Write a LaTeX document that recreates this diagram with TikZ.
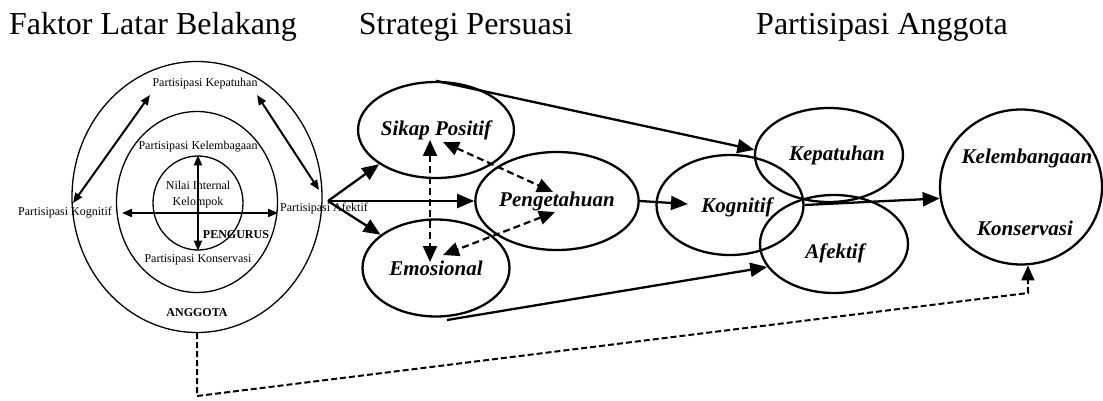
\documentclass[tikz,border=0pt]{standalone}
\usepackage{fontspec}
\setmainfont{Liberation Serif}
\usetikzlibrary{arrows.meta,shapes.geometric,calc}
\begin{document}
\begin{tikzpicture}[x=1pt,y=-1pt,
  title/.style={font=\fontsize{32}{38}\selectfont,anchor=base,inner sep=0},
  small/.style={font=\fontsize{12}{16}\selectfont,inner sep=0},
  thin ring/.style={draw,ellipse,line width=1.3pt,inner sep=0},
  bubble/.style={draw,ellipse,line width=2.3pt,inner sep=0,font=\fontsize{21}{25}\selectfont\bfseries\itshape},
  btext/.style={inner sep=0,font=\fontsize{21}{25}\selectfont\bfseries\itshape},
  bigarr/.style={line width=2.3pt,-{Triangle[length=17pt,width=14pt]}},
  dblarr/.style={line width=2pt,{Triangle[length=10pt,width=8pt]}-{Triangle[length=10pt,width=8pt]}},
  dasharr/.style={line width=2.2pt,dash pattern=on 7pt off 4pt,{Triangle[length=16pt,width=14pt]}-{Triangle[length=16pt,width=14pt]}},
  bottomdash/.style={line width=2pt,dash pattern=on 6pt off 3pt,-{Triangle[length=15pt,width=13pt]}}
]
\useasboundingbox (0,0) rectangle (1103,401);

% titles
\node[title] (t1) at (153,35) {Faktor Latar Belakang};
\node[title] (t2) at (466,35) {Strategi Persuasi};
\node[title] (t3) at (882,35) {Partisipasi Anggota};

% left concentric diagram
\node[thin ring,minimum width=250pt,minimum height=271pt] (anggota) at (197,197) {};
\node[thin ring,minimum width=161pt,minimum height=181pt] (pengurus) at (197,202) {};
\node[thin ring,minimum width=90pt,minimum height=94pt] (nilai) at (198,203) {};

\node[small] (lkep) at (205,84) {Partisipasi Kepatuhan};
\node[small] (lkel) at (198,147) {Partisipasi Kelembagaan};
\node[small,align=center] (lnil) at (198,195) {Nilai Internal\\Kelompok};
\node[small,font=\fontsize{12}{13}\selectfont\bfseries] (lpen) at (236,235) {PENGURUS};
\node[small] (lkon) at (198,260) {Partisipasi Konservasi};
\node[small] (lkog) at (65,213) {Partisipasi Kognitif};
\node[small,anchor=west] (lafe) at (280,209) {Partisipasi Afektif};
\node[small,font=\fontsize{12}{13}\selectfont\bfseries] (lang) at (197,313) {ANGGOTA};

\coordinate (hl) at (122,213);
\coordinate (hr) at (278,213);
\draw[dblarr] (hl) -- (hr);
\draw[dblarr] (nilai.north) -- (nilai.south);
\coordinate (dl1) at (73,203);
\coordinate (dl2) at (150,95);
\draw[dblarr] (dl1) -- (dl2);
\coordinate (dr1) at (257,95);
\coordinate (dr2) at (319,190);
\draw[dblarr] (dr1) -- (dr2);

% strategy ellipses
\node[bubble,minimum width=147pt,minimum height=96pt] (sikap) at (436,130) {Sikap Positif};
\node[bubble,minimum width=147pt,minimum height=97pt] (emo) at (436,268) {Emosional};
\node[bubble,minimum width=149pt,minimum height=98pt] (peng) at (557,201) {Pengetahuan};

\coordinate (src) at (328,201);
\draw[bigarr] (src) -- (sikap.211);
\draw[bigarr] (src) -- (peng.west);
\draw[bigarr] (src) -- (emo.149);

\coordinate (dv1) at (430,140);
\coordinate (dv2) at (430,262);
\draw[dasharr] (dv1) -- (dv2);
\coordinate (da1) at (443,142);
\coordinate (da2) at (553,192);
\draw[dasharr] (da1) -- (da2);
\coordinate (db1) at (555,212);
\coordinate (db2) at (443,255);
\draw[dasharr] (db1) -- (db2);

% participation ellipses
\node[bubble,minimum width=147pt,minimum height=100pt] (kog) at (730,205) {};
\node[btext] (kogt) at (737,207) {Kognitif};
\node[bubble,minimum width=148pt,minimum height=94pt] (kep) at (829,155) {};
\node[btext] (kept) at (837,155) {Kepatuhan};
\node[bubble,minimum width=148pt,minimum height=98pt] (afe) at (834,244) {};
\node[btext] (afet) at (835,253) {Afektif};

\node[bubble,minimum width=162pt,minimum height=155pt] (kel) at (1021,187) {};
\node[btext] (kelt) at (1027,158) {Kelembangaan};
\node[btext] (kont) at (1025,228) {Konservasi};

\draw[bigarr] (sikap.north) -- (kep.176);
\coordinate (emob) at (447,320);
\draw[bigarr] (emob) -- (afe.199);
\coordinate (kogtip) at (688,204);
\draw[bigarr] (peng.east) -- (kogtip);
\draw[bigarr] (kog.east) -- (kel.188);

% dashed feedback
\coordinate (c1) at (197,396);
\coordinate (c2) at (1028,293);
\draw[bottomdash] (anggota.south) -- (c1) -- (c2) -- (kel.275);
\end{tikzpicture}
\end{document}
